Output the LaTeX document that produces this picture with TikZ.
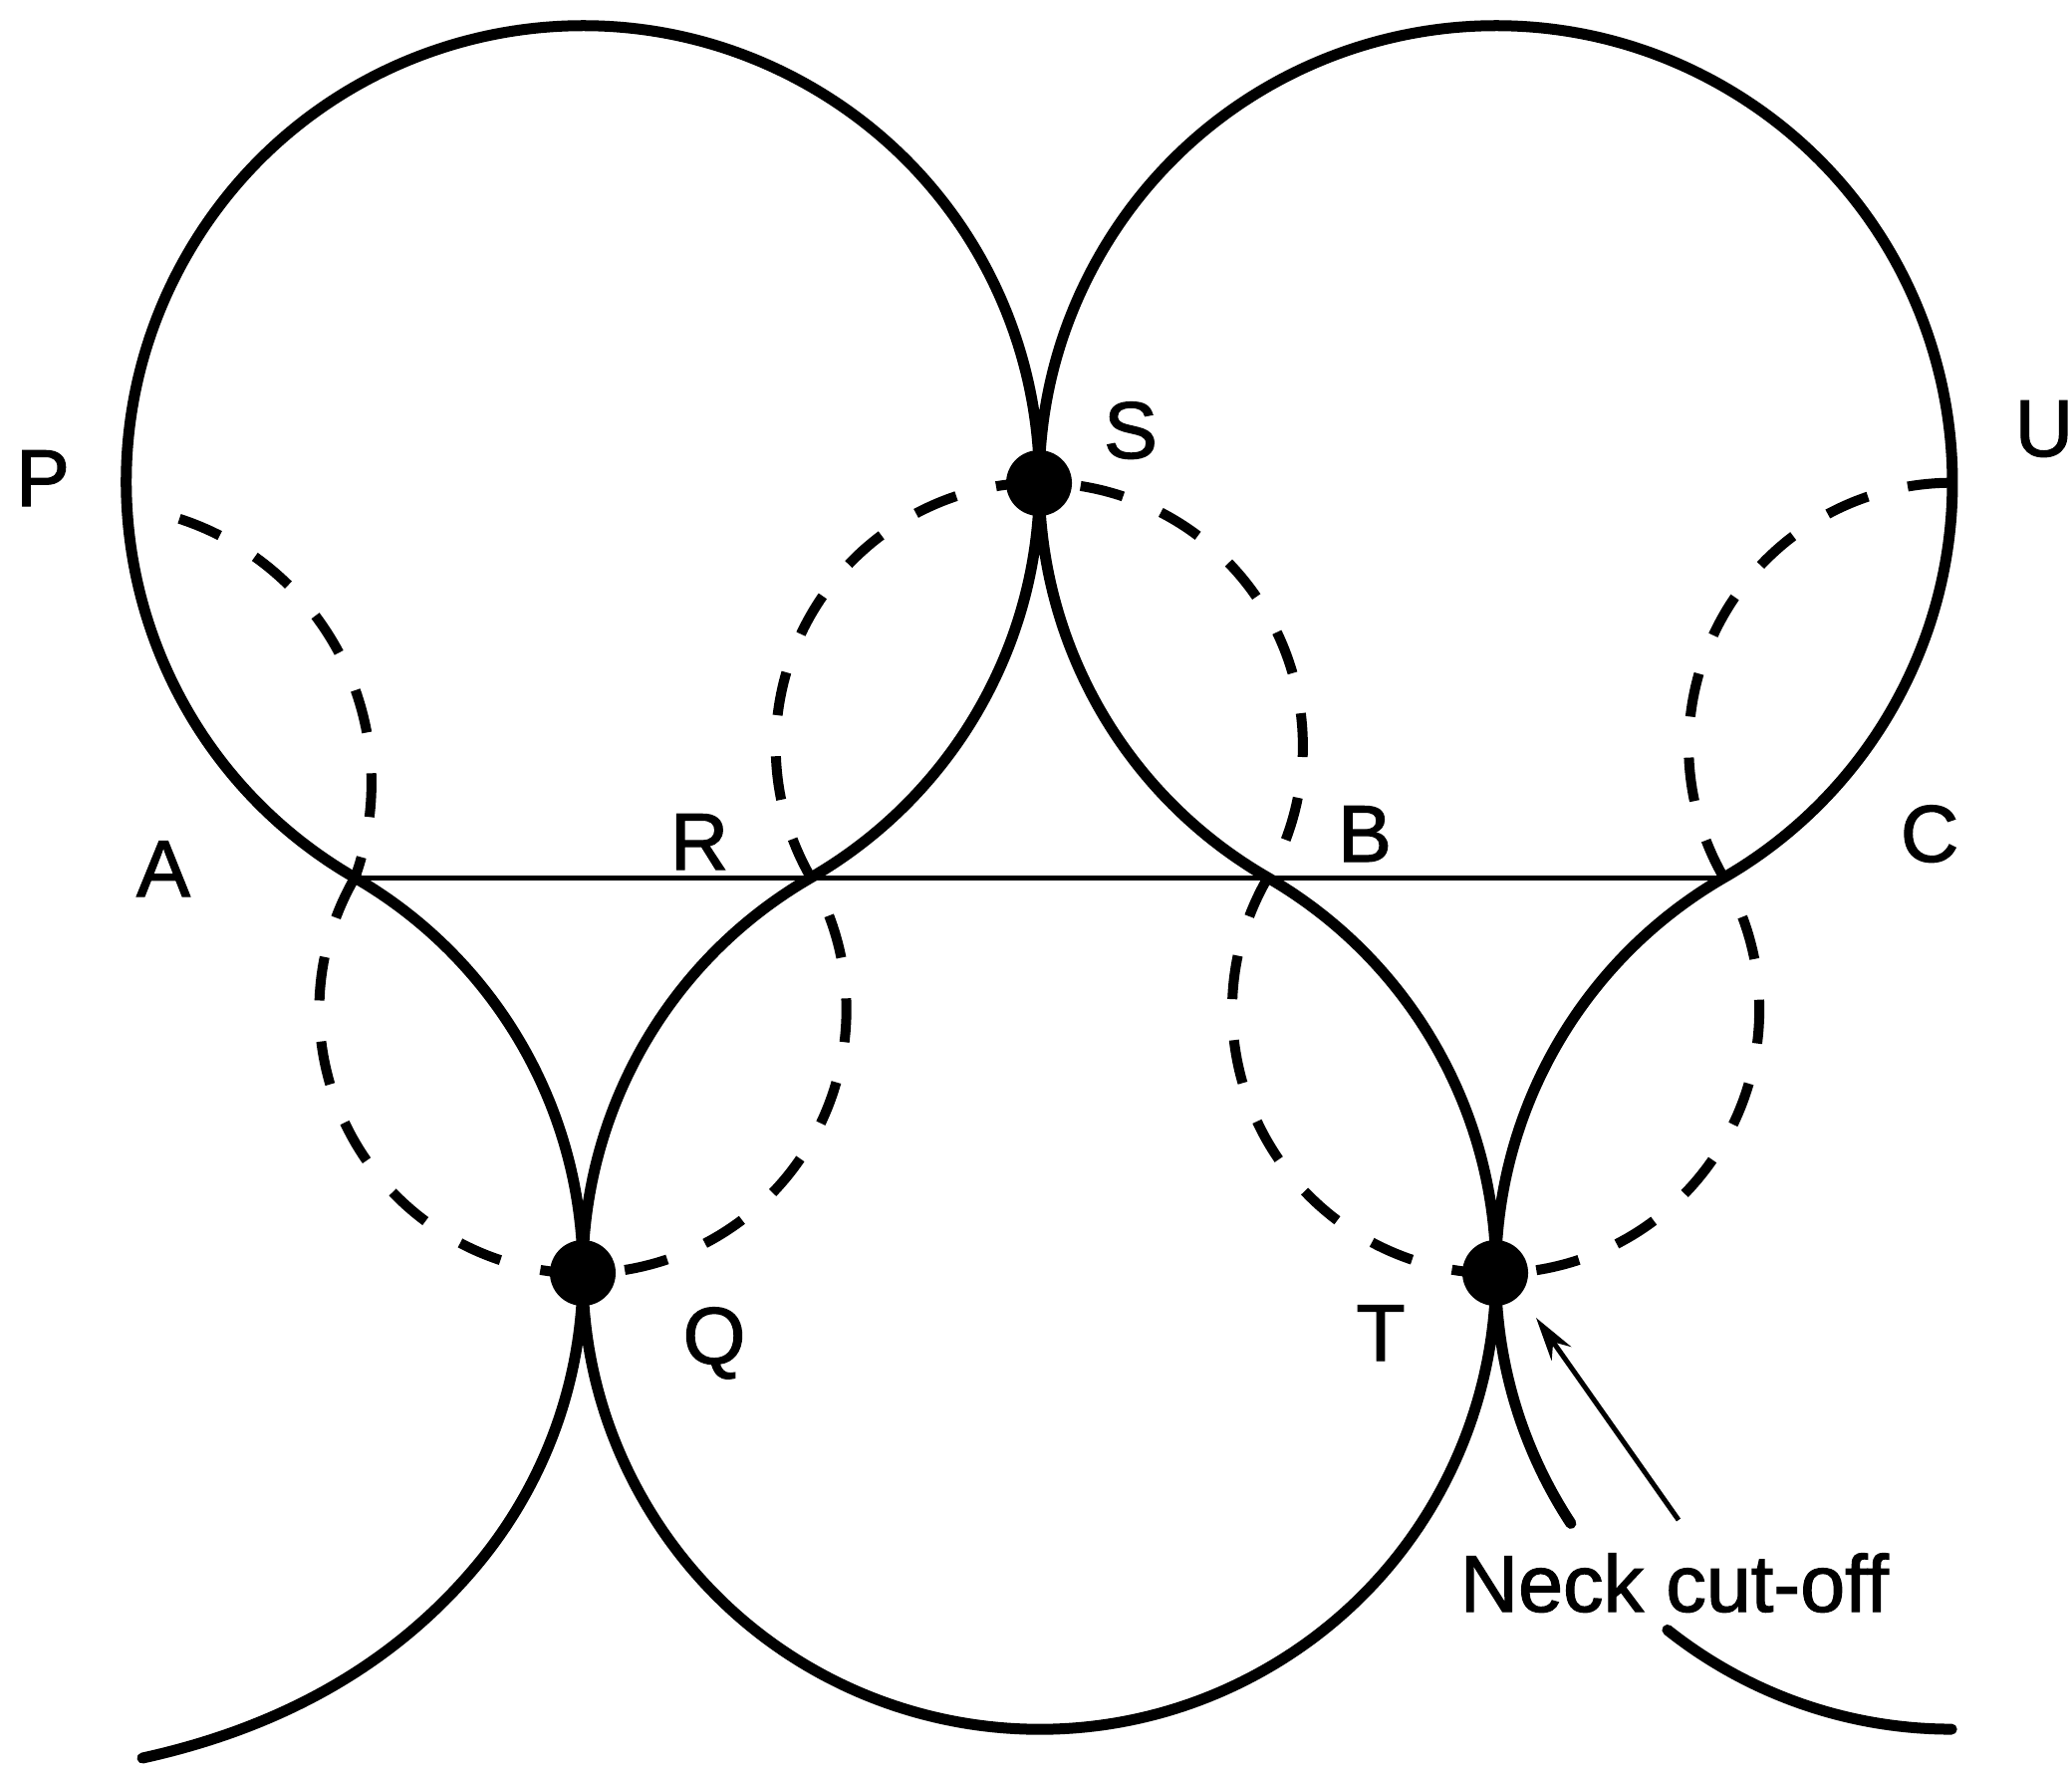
\documentclass[tikz,border=0pt]{standalone}
\usepackage{fontspec}
\setmainfont{Liberation Sans}
\newfontfamily\lblfont{Liberation Sans}[FakeBold=1.5]
\usetikzlibrary{arrows.meta}
\begin{document}
\begin{tikzpicture}[x=0.01cm,y=0.01cm,
  channel/.style={line width=0.11cm, line join=round, line cap=round},
  oldchannel/.style={line width=0.10cm, dash pattern=on 0.44cm off 0.4115cm},
  chord/.style={line width=0.05cm},
  dotmark/.style={circle, fill=black, draw=none, minimum size=0.66cm, inner sep=0pt},
  lab/.style={inner sep=0pt, font=\lblfont\fontsize{23}{27}\selectfont, anchor=base},
  pointer/.style={line width=0.05cm, -{Stealth[length=0.44cm,width=0.24cm]}}]
\useasboundingbox (0,0) rectangle (2080,-1773);

% key points
\coordinate (A) at (356,-881.5);
\coordinate (C) at (1730,-881.5);
\coordinate (S) at (1043,-485);
\coordinate (Q) at (585,-1278);
\coordinate (T) at (1501,-1278);
\coordinate (BLend) at (143,-1765);
\coordinate (BLmid) at (477.85,-1572.4);
\coordinate (BRlow) at (1673.9,-1636.4);
\coordinate (DPstart) at (180,-520.8);

% present channel (solid meander)
\draw[channel] (BLend) .. controls (275,-1736) and (391,-1676) .. (BLmid)
  arc[start angle=-40, end angle=60, radius=4.58cm]
  arc[start angle=240, end angle=-60, radius=4.58cm]
  arc[start angle=120, end angle=420, radius=4.58cm]
  arc[start angle=240, end angle=-60, radius=4.58cm]
  arc[start angle=120, end angle=213.3, radius=4.58cm];
\draw[channel] (BRlow) arc[start angle=231.5, end angle=270, radius=4.58cm];

% chord through inflection points
\draw[chord] (A) -- (C);

% earlier channel (dashed meander)
\draw[oldchannel] (DPstart) arc[start angle=72, end angle=-20, radius=2.79cm];
\draw[oldchannel] (A)
  arc[start angle=150, end angle=390, radius=2.644cm]
  arc[start angle=210, end angle=-30, radius=2.644cm]
  arc[start angle=150, end angle=390, radius=2.644cm]
  arc[start angle=210, end angle=90, radius=2.644cm];

% neck points
\node[dotmark] (Sdot) at (S) {};
\node[dotmark] (Qdot) at (Q) {};
\node[dotmark] (Tdot) at (T) {};

% labels
\node[lab] (Plab) at (43,-508) {P};
\node[lab] (Slab) at (1135,-460) {S};
\node[lab, anchor=base west] (Ulab) at (2022,-458) {U};
\node[lab] (Alab) at (164,-900) {A};
\node[lab] (Rlab) at (702,-873) {R};
\node[lab] (Blab) at (1370,-865) {B};
\node[lab] (Clab) at (1937,-865) {C};
\node[lab] (Qlab) at (717,-1369) {Q};
\node[lab] (Tlab) at (1386,-1366) {T};
\node[lab, anchor=base west] (necklab) at (1465,-1618) {Neck cut-off};

% pointer to the neck cut-off
\coordinate (arrtail) at (1685,-1526);
\coordinate (arrtip) at (1542,-1323);
\draw[pointer] (arrtail) -- (arrtip);
\end{tikzpicture}
\end{document}
